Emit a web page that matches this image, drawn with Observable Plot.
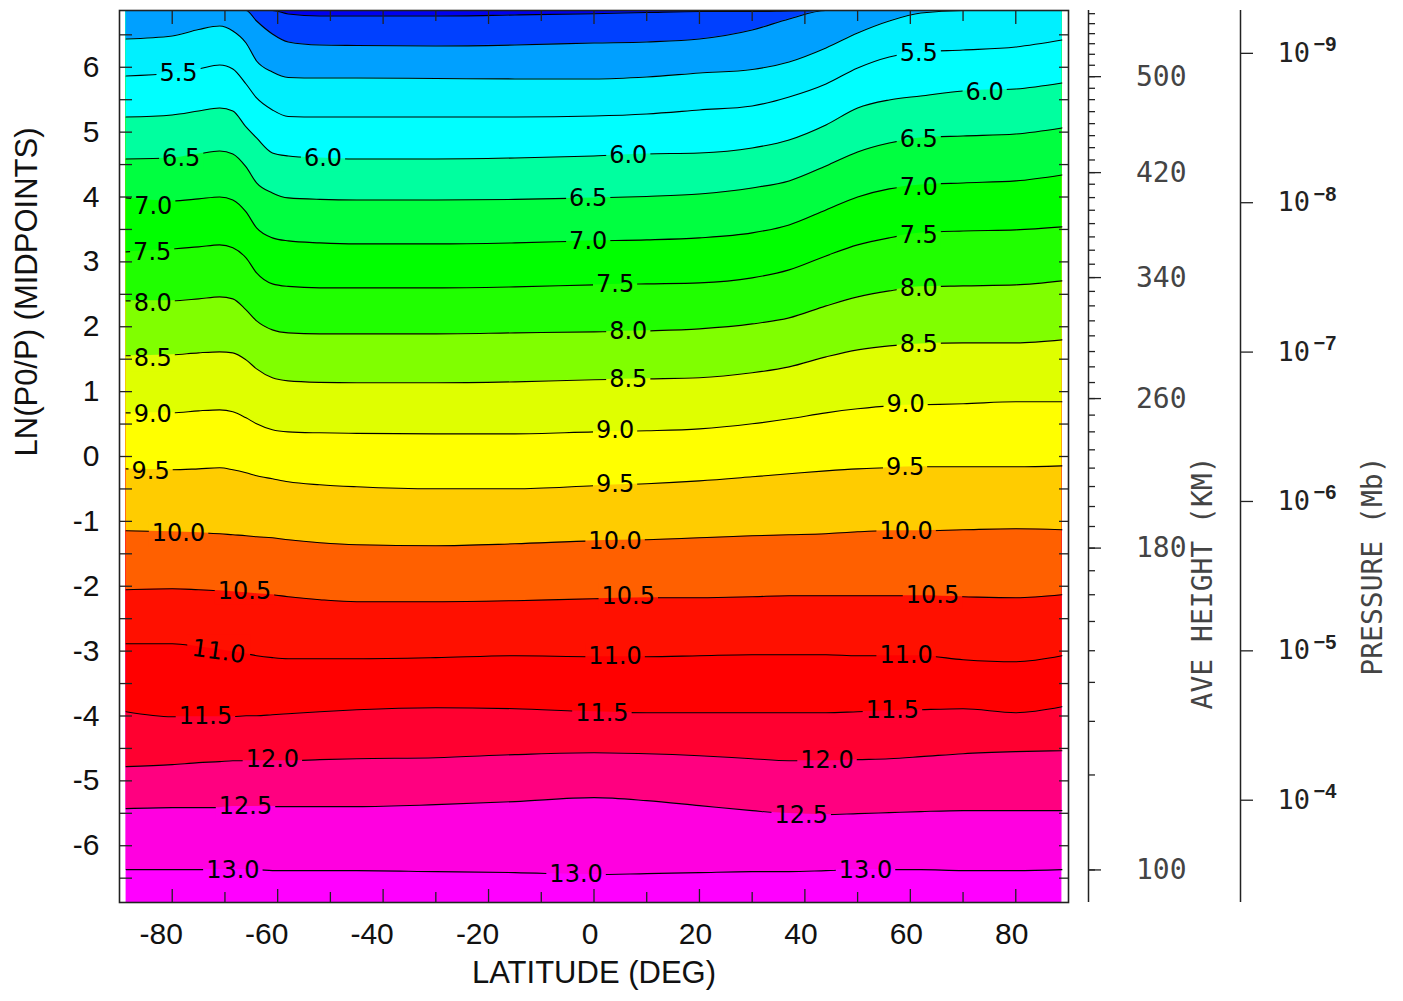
<!DOCTYPE html>
<html><head><meta charset="utf-8">
<script src="https://cdn.jsdelivr.net/npm/d3@7"></script>
<script src="https://cdn.jsdelivr.net/npm/@observablehq/plot@0.6"></script>
<style>html,body{margin:0;padding:0;background:#fff}#chart svg{display:block}</style>
</head><body><div id="chart"></div>
<script>
// ---------- data ----------
const lats = [-88.75, -80, -75, -71, -68.5, -66, -64, -61, -58, -52, -45, -30, -15, 0, 10, 20, 30, 37, 44, 50, 56, 62, 70, 80, 88.75];
const levels = [4.0, 4.5, 5.0, 5.5, 6.0, 6.5, 7.0, 7.5, 8.0, 8.5, 9.0, 9.5, 10.0, 10.5, 11.0, 11.5, 12.0, 12.5, 13.0];

// ln(P0/P) position of each contour level at each latitude in `lats` (values above 6.875 lie beyond the top edge)
const z4_0 = [7.2, 7.2, 7.2, 7.2, 7.2, 7.1, 7.0, 6.883, 6.821, 6.79, 6.79, 6.79, 6.806, 6.826, 6.844, 6.86, 6.86, 6.868, 7.1, 7.15, 7.2, 7.2, 7.2, 7.2, 7.2];
const z4_5 = [7.2, 7.2, 7.2, 7.2, 7.0, 6.875, 6.713, 6.513, 6.39, 6.343, 6.336, 6.328, 6.343, 6.374, 6.39, 6.436, 6.575, 6.744, 7.05, 7.15, 7.2, 7.2, 7.2, 7.2, 7.2];
const z5_0 = [6.436, 6.482, 6.582, 6.636, 6.559, 6.374, 6.097, 5.927, 5.843, 5.835, 5.835, 5.827, 5.82, 5.82, 5.85, 5.912, 5.966, 6.081, 6.297, 6.528, 6.713, 6.836, 6.95, 7.05, 7.1];
const z5_5 = [5.866, 5.912, 5.974, 6.035, 5.974, 5.742, 5.527, 5.342, 5.242, 5.234, 5.234, 5.234, 5.234, 5.249, 5.28, 5.342, 5.404, 5.542, 5.742, 5.989, 6.159, 6.236, 6.266, 6.313, 6.42];
const z6_0 = [5.234, 5.265, 5.326, 5.373, 5.326, 5.08, 4.91, 4.679, 4.633, 4.602, 4.587, 4.587, 4.602, 4.633, 4.664, 4.679, 4.756, 4.88, 5.111, 5.373, 5.496, 5.558, 5.634, 5.665, 5.758];
const z6_5 = [4.587, 4.602, 4.664, 4.71, 4.664, 4.464, 4.217, 4.063, 3.986, 3.963, 3.955, 3.955, 3.963, 3.986, 4.009, 4.047, 4.14, 4.248, 4.479, 4.695, 4.833, 4.911, 4.941, 4.972, 5.065];
const z7_0 = [3.986, 3.94, 3.971, 4.001, 3.955, 3.77, 3.524, 3.37, 3.324, 3.293, 3.277, 3.277, 3.293, 3.324, 3.339, 3.37, 3.447, 3.57, 3.801, 4.001, 4.125, 4.186, 4.217, 4.248, 4.34];
const z7_5 = [3.154, 3.2, 3.231, 3.262, 3.216, 3.062, 2.83, 2.661, 2.622, 2.599, 2.599, 2.599, 2.615, 2.645, 2.661, 2.676, 2.753, 2.877, 3.092, 3.262, 3.37, 3.447, 3.477, 3.493, 3.539];
const z8_0 = [2.399, 2.399, 2.43, 2.461, 2.43, 2.26, 2.091, 1.952, 1.906, 1.891, 1.891, 1.891, 1.906, 1.921, 1.937, 1.968, 2.044, 2.137, 2.322, 2.461, 2.553, 2.615, 2.63, 2.645, 2.707];
const z8_5 = [1.552, 1.567, 1.598, 1.613, 1.598, 1.49, 1.351, 1.213, 1.166, 1.143, 1.136, 1.136, 1.151, 1.182, 1.197, 1.213, 1.29, 1.382, 1.536, 1.644, 1.705, 1.736, 1.752, 1.752, 1.798];
const z9_0 = [0.673, 0.673, 0.704, 0.719, 0.689, 0.596, 0.504, 0.411, 0.38, 0.365, 0.357, 0.349, 0.349, 0.38, 0.396, 0.426, 0.504, 0.581, 0.673, 0.735, 0.781, 0.797, 0.812, 0.843, 0.843];
const z9_5 = [-0.19, -0.205, -0.19, -0.174, -0.205, -0.251, -0.297, -0.344, -0.39, -0.436, -0.467, -0.498, -0.498, -0.452, -0.421, -0.375, -0.313, -0.267, -0.221, -0.19, -0.174, -0.159, -0.159, -0.159, -0.144];
const z10_0 = [-1.145, -1.161, -1.176, -1.191, -1.207, -1.222, -1.238, -1.253, -1.284, -1.33, -1.361, -1.376, -1.346, -1.3, -1.284, -1.253, -1.222, -1.207, -1.191, -1.161, -1.145, -1.145, -1.13, -1.114, -1.13];
const z10_5 = [-2.054, -2.039, -2.054, -2.069, -2.085, -2.1, -2.116, -2.131, -2.162, -2.208, -2.239, -2.239, -2.223, -2.193, -2.177, -2.177, -2.162, -2.146, -2.146, -2.146, -2.146, -2.146, -2.162, -2.177, -2.131];
const z11_0 = [-2.886, -2.886, -2.932, -2.978, -3.009, -3.04, -3.071, -3.101, -3.117, -3.117, -3.117, -3.101, -3.071, -3.086, -3.086, -3.071, -3.055, -3.055, -3.055, -3.071, -3.071, -3.071, -3.132, -3.163, -3.071];
const z11_5 = [-3.934, -4.011, -4.011, -4.011, -4.011, -3.996, -3.996, -3.98, -3.965, -3.934, -3.903, -3.872, -3.888, -3.934, -3.949, -3.949, -3.949, -3.949, -3.949, -3.934, -3.919, -3.903, -3.888, -3.949, -3.857];
const z12_0 = [-4.781, -4.75, -4.719, -4.704, -4.689, -4.689, -4.689, -4.689, -4.689, -4.673, -4.658, -4.643, -4.596, -4.566, -4.581, -4.612, -4.658, -4.689, -4.689, -4.673, -4.658, -4.627, -4.581, -4.55, -4.535];
const z12_5 = [-5.428, -5.413, -5.413, -5.413, -5.397, -5.397, -5.397, -5.397, -5.397, -5.397, -5.397, -5.367, -5.32, -5.259, -5.305, -5.382, -5.459, -5.505, -5.521, -5.505, -5.49, -5.474, -5.459, -5.459, -5.459];
const z13_0 = [-6.368, -6.368, -6.368, -6.368, -6.368, -6.368, -6.368, -6.383, -6.383, -6.383, -6.383, -6.399, -6.414, -6.445, -6.43, -6.414, -6.399, -6.399, -6.383, -6.368, -6.368, -6.368, -6.383, -6.383, -6.368];
const contourZ = [z4_0, z4_5, z5_0, z5_5, z6_0, z6_5, z7_0, z7_5, z8_0, z8_5, z9_0, z9_5, z10_0, z10_5, z11_0, z11_5, z12_0, z12_5, z13_0];

// fill colour of each band: below 4.0, 4.0-4.5, ... , 12.5-13.0, above 13.0
const bandColors = ["#0000f0", "#0040ff", "#00a0ff", "#00f0ff", "#00ffff", "#00ff9f", "#00ff40", "#00ff00", "#20ff00", "#80ff00",
  "#dfff00", "#ffff00", "#ffcc00", "#ff6000", "#ff1000", "#ff0000", "#ff0030", "#ff0080", "#ff00e0", "#ff00ff"];

// contour labels: level, latitude, ln(P0/P), rotation
const labelLevels = [5.5, 6.5, 6.0, 7.0, 7.5, 8.0, 8.5, 9.0, 9.5, 10.0, 10.5, 11.0, 11.5, 12.0, 12.5, 13.0,
  6.0, 6.5, 7.0, 7.5, 8.0, 8.5, 9.0, 9.5, 10.0, 10.5, 11.0, 11.5, 13.0,
  5.5, 6.0, 6.5, 7.0, 7.5, 8.0, 8.5, 9.0, 9.5, 10.0, 10.5, 11.0, 11.5, 12.0, 12.5, 13.0];
const labelLats = [-78.8, -78.3, -51.4, -83.6, -83.8, -83.7, -83.7, -83.7, -84.1, -78.8, -66.3, -71.2, -73.7, -61.0, -66.1, -68.5,
  6.5, -1.1, -1.1, 4.0, 6.5, 6.5, 4.0, 4.0, 4.0, 6.5, 4.0, 1.5, -3.4,
  61.6, 74.1, 61.6, 61.6, 61.6, 61.6, 61.6, 59.1, 59.0, 59.2, 64.2, 59.2, 56.6, 44.2, 39.3, 51.5];
const labelZ = [5.912, 4.595, 4.595, 3.863, 3.146, 2.36, 1.513, 0.65, -0.236, -1.191, -2.085, -3.009, -4.011, -4.673, -5.397, -6.383,
  4.649, 3.986, 3.324, 2.661, 1.937, 1.197, 0.396, -0.436, -1.3, -2.162, -3.086, -3.965, -6.445,
  6.212, 5.619, 4.884, 4.155, 3.408, 2.587, 1.732, 0.797, -0.174, -1.16, -2.147, -3.071, -3.919, -4.689, -5.536, -6.383];
const labelAngles = [0, 0, 0, 0, 0, 0, 0, 0, 0, 0, 0, 8, 0, 0, 0, 0,
  0, 0, 0, 0, 0, 0, 0, 0, 0, 0, 0, 0, 0,
  0, 0, 0, 0, 0, 0, 0, 0, 0, 0, 0, 0, 0, 0, 0, 0];

// axis ticks
const xMajorTicks = [-80, -60, -40, -20, 0, 20, 40, 60, 80];
const xMinorTicks = [-70, -50, -30, -10, 10, 30, 50, 70];
const yMajorTicks = [-6, -5, -4, -3, -2, -1, 0, 1, 2, 3, 4, 5, 6];
const yMinorTicks = [-6.5, -5.5, -4.5, -3.5, -2.5, -1.5, -0.5, 0.5, 1.5, 2.5, 3.5, 4.5, 5.5, 6.5];

// average height axis (km) and where each tick sits in ln(P0/P)
const heightTicksKm = [100, 110, 120, 130, 140, 150, 160, 170, 180, 190, 200, 210, 220, 230, 240, 250, 260, 270, 280, 290, 300,
  310, 320, 330, 340, 350, 360, 370, 380, 390, 400, 410, 420, 430, 440, 450, 460, 470, 480, 490, 500, 510, 520, 530, 540, 550, 560];
const heightTicksZ = [-6.373, -4.909, -4.083, -3.482, -2.994, -2.543, -2.131, -1.761, -1.412, -1.079, -0.771, -0.463, -0.179, 0.103,
  0.38, 0.638, 0.893, 1.14, 1.382, 1.618, 1.86, 2.091, 2.322, 2.545, 2.758, 2.964, 3.18, 3.385, 3.59, 3.796, 3.991, 4.197, 4.376,
  4.571, 4.761, 4.946, 5.131, 5.316, 5.501, 5.676, 5.855, 6.031, 6.2, 6.363, 6.518, 6.672, 6.826];
const heightLabelsKm = [100, 180, 260, 340, 420, 500];

// pressure axis (mb): reference pressure and decades
const P0 = 5e-7;
const pressureExponents = [-9, -8, -7, -6, -5, -4];

// ---------- build ----------
const sans = "'Liberation Sans', Arial, Helvetica, sans-serif";
const mono = "'DejaVu Sans Mono', monospace";
const TOP = 6.875, BOTTOM = -6.875;
const zOfKm = new Map(heightTicksKm.map((k, i) => [k, heightTicksZ[i]]));
const pressureZ = pressureExponents.map(e => Math.log(P0 / Math.pow(10, e)));
const inFrame = z => Math.min(TOP, z);

const marks = [];
// painter's fill: deepest band first, then each level's "above" band
marks.push(Plot.areaY(lats, {x: d => d, y1: BOTTOM, y2: TOP, fill: bandColors[19]}));
for (let i = levels.length - 1; i >= 0; i--) {
  const rows = lats.map((lat, j) => ({lat, z: contourZ[i][j]}));
  marks.push(Plot.areaY(rows, {x: "lat", y1: d => inFrame(d.z), y2: TOP, fill: bandColors[i], curve: "monotone-x"}));
}
// contour lines, one mark per level
for (let i = 0; i < levels.length; i++) {
  const rows = lats.map((lat, j) => ({lat, z: contourZ[i][j]}));
  marks.push(Plot.line(rows, {x: "lat", y: d => inFrame(d.z), stroke: "black", strokeWidth: 1.1, curve: "monotone-x"}));
}
// contour labels (first text mark)
const labelRows = labelLevels.map((level, i) => ({level, lat: labelLats[i], z: labelZ[i], angle: labelAngles[i]}));
marks.push(Plot.text(labelRows, {x: "lat", y: "z", text: d => d.level.toFixed(1), rotate: "angle", fontSize: 24,
  fontFamily: "'DejaVu Sans', sans-serif", fill: "#000"}));

marks.push(Plot.frame({stroke: "#222", strokeWidth: 1.6}));
// inward ticks on all four sides
const tk = {fill: "none", stroke: "#222", strokeWidth: 1.3, label: null};
marks.push(Plot.axisX(xMajorTicks, {...tk, anchor: "bottom", tickSize: 13, dy: -13}));
marks.push(Plot.axisX(xMinorTicks, {...tk, anchor: "bottom", tickSize: 10, dy: -10}));
marks.push(Plot.axisX(xMajorTicks, {...tk, anchor: "top", tickSize: 13, dy: 13}));
marks.push(Plot.axisX(xMinorTicks, {...tk, anchor: "top", tickSize: 10, dy: 10}));
marks.push(Plot.axisY(yMajorTicks, {...tk, anchor: "left", tickSize: 13, dx: 13}));
marks.push(Plot.axisY(yMinorTicks, {...tk, anchor: "left", tickSize: 13, dx: 13}));
marks.push(Plot.axisY(yMajorTicks, {...tk, anchor: "right", tickSize: 10, dx: -10}));
marks.push(Plot.axisY(yMinorTicks, {...tk, anchor: "right", tickSize: 10, dx: -10}));
// tick labels
const lab = {tickSize: 0, label: null, fontSize: 30, fontFamily: sans, fill: "#111", tickFormat: d => String(d)};
marks.push(Plot.axisX(xMajorTicks.filter(d => d < 0), {...lab, anchor: "bottom", tickPadding: 20, dx: -11}));
marks.push(Plot.axisX(xMajorTicks.filter(d => d >= 0), {...lab, anchor: "bottom", tickPadding: 20, dx: -4}));
marks.push(Plot.axisY(yMajorTicks, {...lab, anchor: "left", tickPadding: 20}));
// titles
marks.push(Plot.text(["LATITUDE (DEG)"], {frameAnchor: "bottom", dy: 80, fontSize: 31, fontFamily: sans, fill: "#111"}));
marks.push(Plot.text(["LN(P0/P) (MIDPOINTS)"], {frameAnchor: "left", dx: -92, rotate: -90, fontSize: 31, fontFamily: sans, fill: "#111"}));

// height axis
marks.push(Plot.ruleX([90], {dx: 20, stroke: "#222", strokeWidth: 1.5}));
marks.push(Plot.axisY(heightTicksZ, {...tk, anchor: "right", dx: 20, tickSize: 6}));
marks.push(Plot.axisY(heightLabelsKm.map(k => zOfKm.get(k)), {...tk, anchor: "right", dx: 20, tickSize: 12}));
marks.push(Plot.text(heightLabelsKm, {y: k => zOfKm.get(k), text: k => String(k), frameAnchor: "right", dx: 118, textAnchor: "end",
  fontSize: 28, fontFamily: mono, fill: "#444"}));
marks.push(Plot.text(["AVE HEIGHT (KM)"], {frameAnchor: "right", dx: 135, rotate: -90, fontSize: 28, fontFamily: mono, fill: "#444"}));

// pressure axis
marks.push(Plot.ruleX([90], {dx: 172, stroke: "#222", strokeWidth: 1.5}));
marks.push(Plot.axisY(pressureZ, {...tk, anchor: "right", dx: 172, tickSize: 12}));
marks.push(Plot.text(pressureExponents, {y: e => pressureZ[pressureExponents.indexOf(e)], text: () => "10", frameAnchor: "right",
  dx: 209, textAnchor: "start", fontSize: 27, fontFamily: mono, fill: "#222"}));
marks.push(Plot.text(pressureExponents, {y: e => pressureZ[pressureExponents.indexOf(e)], text: e => "\u2212" + Math.abs(e), frameAnchor: "right",
  dx: 245, dy: -8.5, textAnchor: "start", fontSize: 20, fontWeight: "bold", fontFamily: sans, fill: "#222"}));
marks.push(Plot.text(["PRESSURE (Mb)"], {frameAnchor: "right", dx: 305, rotate: -90, fontSize: 28, fontFamily: mono, fill: "#444"}));

const chart = Plot.plot({
  width: 1403, height: 1001,
  marginLeft: 119, marginRight: 335, marginTop: 10, marginBottom: 99,
  x: {domain: [-90, 90], label: null, axis: null},
  y: {domain: [BOTTOM, TOP], label: null, axis: null},
  style: {background: "#fff", color: "#111", fontFamily: sans, overflow: "visible"},
  marks
});
document.getElementById("chart").append(chart);

// break the contour lines where their labels sit: repaint the band fills inside each label box
(function () {
  const svg = chart.tagName.toLowerCase() === "svg" ? chart : chart.querySelector("svg");
  const labelG = svg.querySelector('g[aria-label="text"]');
  const fillGs = svg.querySelectorAll('g[aria-label="area"]');
  if (!labelG || !fillGs.length) return;
  const ns = "http://www.w3.org/2000/svg";
  const base = svg.getBoundingClientRect();
  const clip = document.createElementNS(ns, "clipPath");
  clip.setAttribute("id", "contour-label-boxes-x1");
  for (const t of labelG.querySelectorAll("text")) {
    const r = t.getBoundingClientRect();
    const g = document.createElementNS(ns, "rect");
    g.setAttribute("x", r.left - base.left - 3);
    g.setAttribute("y", r.top - base.top + 1);
    g.setAttribute("width", r.width + 6);
    g.setAttribute("height", Math.max(0, r.height - 2));
    clip.append(g);
  }
  const cover = document.createElementNS(ns, "g");
  cover.append(clip);
  const inner = document.createElementNS(ns, "g");
  inner.setAttribute("clip-path", "url(#contour-label-boxes-x1)");
  for (const g of fillGs) {
    const c = g.cloneNode(true);
    c.removeAttribute("aria-label");
    inner.append(c);
  }
  cover.append(inner);
  labelG.parentNode.insertBefore(cover, labelG);
})();
</script>
</body></html>
